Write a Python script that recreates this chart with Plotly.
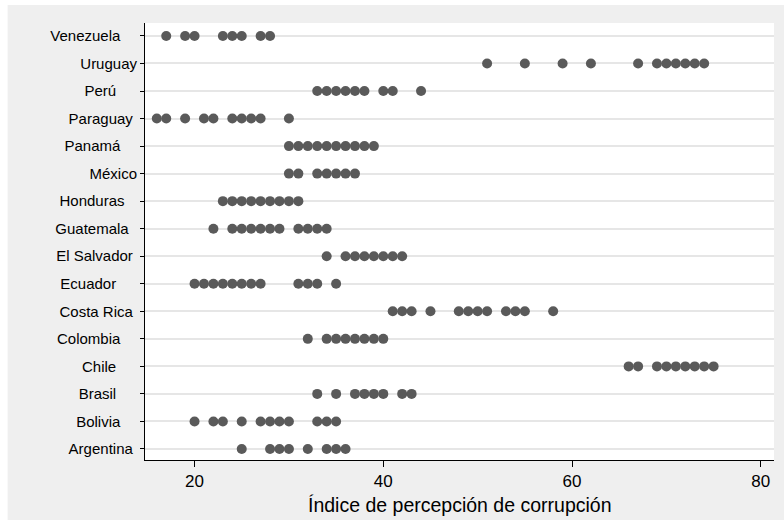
import plotly.graph_objects as go

# Countries, bottom to top
countries = ["Argentina", "Bolivia", "Brasil", "Chile", "Colombia", "Costa Rica",
             "Ecuador", "El Salvador", "Guatemala", "Honduras", "México", "Panamá",
             "Paraguay", "Perú", "Uruguay", "Venezuela"]

argentina = [25, 28, 29, 30, 32, 34, 35, 36]
bolivia = [20, 22, 23, 25, 27, 28, 29, 30, 33, 34, 35]
brasil = [33, 35, 37, 38, 39, 40, 42, 43]
chile = [66, 67, 69, 70, 71, 72, 73, 74, 75]
colombia = [32, 34, 35, 36, 37, 38, 39, 40]
costa_rica = [41, 42, 43, 45, 48, 49, 50, 51, 53, 54, 55, 58]
ecuador = [20, 21, 22, 23, 24, 25, 26, 27, 31, 32, 33, 35]
el_salvador = [34, 36, 37, 38, 39, 40, 41, 42]
guatemala = [22, 24, 25, 26, 27, 28, 29, 31, 32, 33, 34]
honduras = [23, 24, 25, 26, 27, 28, 29, 30, 31]
mexico = [30, 31, 33, 34, 35, 36, 37]
panama = [30, 31, 32, 33, 34, 35, 36, 37, 38, 39]
paraguay = [16, 17, 19, 21, 22, 24, 25, 26, 27, 30]
peru = [33, 34, 35, 36, 37, 38, 40, 41, 44]
uruguay = [51, 55, 59, 62, 67, 69, 70, 71, 72, 73, 74]
venezuela = [17, 19, 20, 23, 24, 25, 27, 28]

series = [argentina, bolivia, brasil, chile, colombia, costa_rica, ecuador,
          el_salvador, guatemala, honduras, mexico, panama, paraguay, peru,
          uruguay, venezuela]

x_ticks = [20, 40, 60, 80]
x_title = "Índice de percepción de corrupción"

xs, ys = [], []
for name, vals in zip(countries, series):
    xs.extend(vals)
    ys.extend([name] * len(vals))

# label right-edge offsets seen in the original (styling only)
label_pad = {"Argentina": 1, "Bolivia": 4, "Brasil": 5, "Chile": 5, "Colombia": 4,
             "Costa Rica": 1, "Ecuador": 5, "El Salvador": 1, "Guatemala": 2,
             "Honduras": 3, "México": 0, "Panamá": 4, "Paraguay": 1, "Perú": 5,
             "Uruguay": 0, "Venezuela": 4}
y_ticktext = [c + "\u00a0" * label_pad[c] for c in countries]

fig = go.Figure()
fig.add_trace(go.Scatter(
    x=xs, y=ys, mode="markers",
    marker=dict(color="#5a5a5a", size=10, line=dict(width=0)),
    showlegend=False, hoverinfo="x+y",
))

# plot area in pixels: x 144.5..774, y 23..460
L, R, T, B = 144.5, 774, 23, 460
W, H = 784, 528
pw, ph = R - L, B - T

def px(x):
    return (x - L) / pw

def py(y):
    return (B - y) / ph

fig.update_layout(
    width=W, height=H,
    margin=dict(l=L, r=W - R, t=T, b=H - B, pad=0),
    paper_bgcolor="white",
    plot_bgcolor="white",
    font=dict(family="Liberation Sans, Arial, sans-serif", color="#000000"),
    shapes=[
        dict(type="rect", xref="paper", yref="paper",
             x0=px(7), x1=px(784), y0=py(520), y1=py(5),
             fillcolor="#efefef", line=dict(width=0), layer="below"),
        dict(type="rect", xref="paper", yref="paper",
             x0=0, x1=1, y0=0, y1=1,
             fillcolor="white", line=dict(width=0), layer="below"),
    ],
    annotations=[
        dict(text=x_title, xref="paper", yref="paper", x=0.5, y=py(518),
             xanchor="center", yanchor="bottom", showarrow=False,
             font=dict(size=19.5, color="black")),
    ],
)

fig.update_xaxes(
    range=[14.75, 81.4], tickvals=x_ticks, ticktext=[str(t) for t in x_ticks],
    showgrid=False, zeroline=False, showline=True, linecolor="black", linewidth=1,
    ticks="outside", ticklen=6, tickcolor="black", tickwidth=1,
    tickfont=dict(size=17, color="black"),
)
fig.update_yaxes(
    type="category", categoryorder="array", categoryarray=countries,
    tickvals=countries, ticktext=y_ticktext,
    range=[-0.40, 15.47],
    showgrid=True, gridcolor="#e6e6e6", gridwidth=2, zeroline=False,
    showline=True, linecolor="black", linewidth=1,
    ticks="outside", ticklen=4, tickcolor="black", tickwidth=1,
    tickfont=dict(size=15, color="black"),
)

fig.write_html("out.html")
